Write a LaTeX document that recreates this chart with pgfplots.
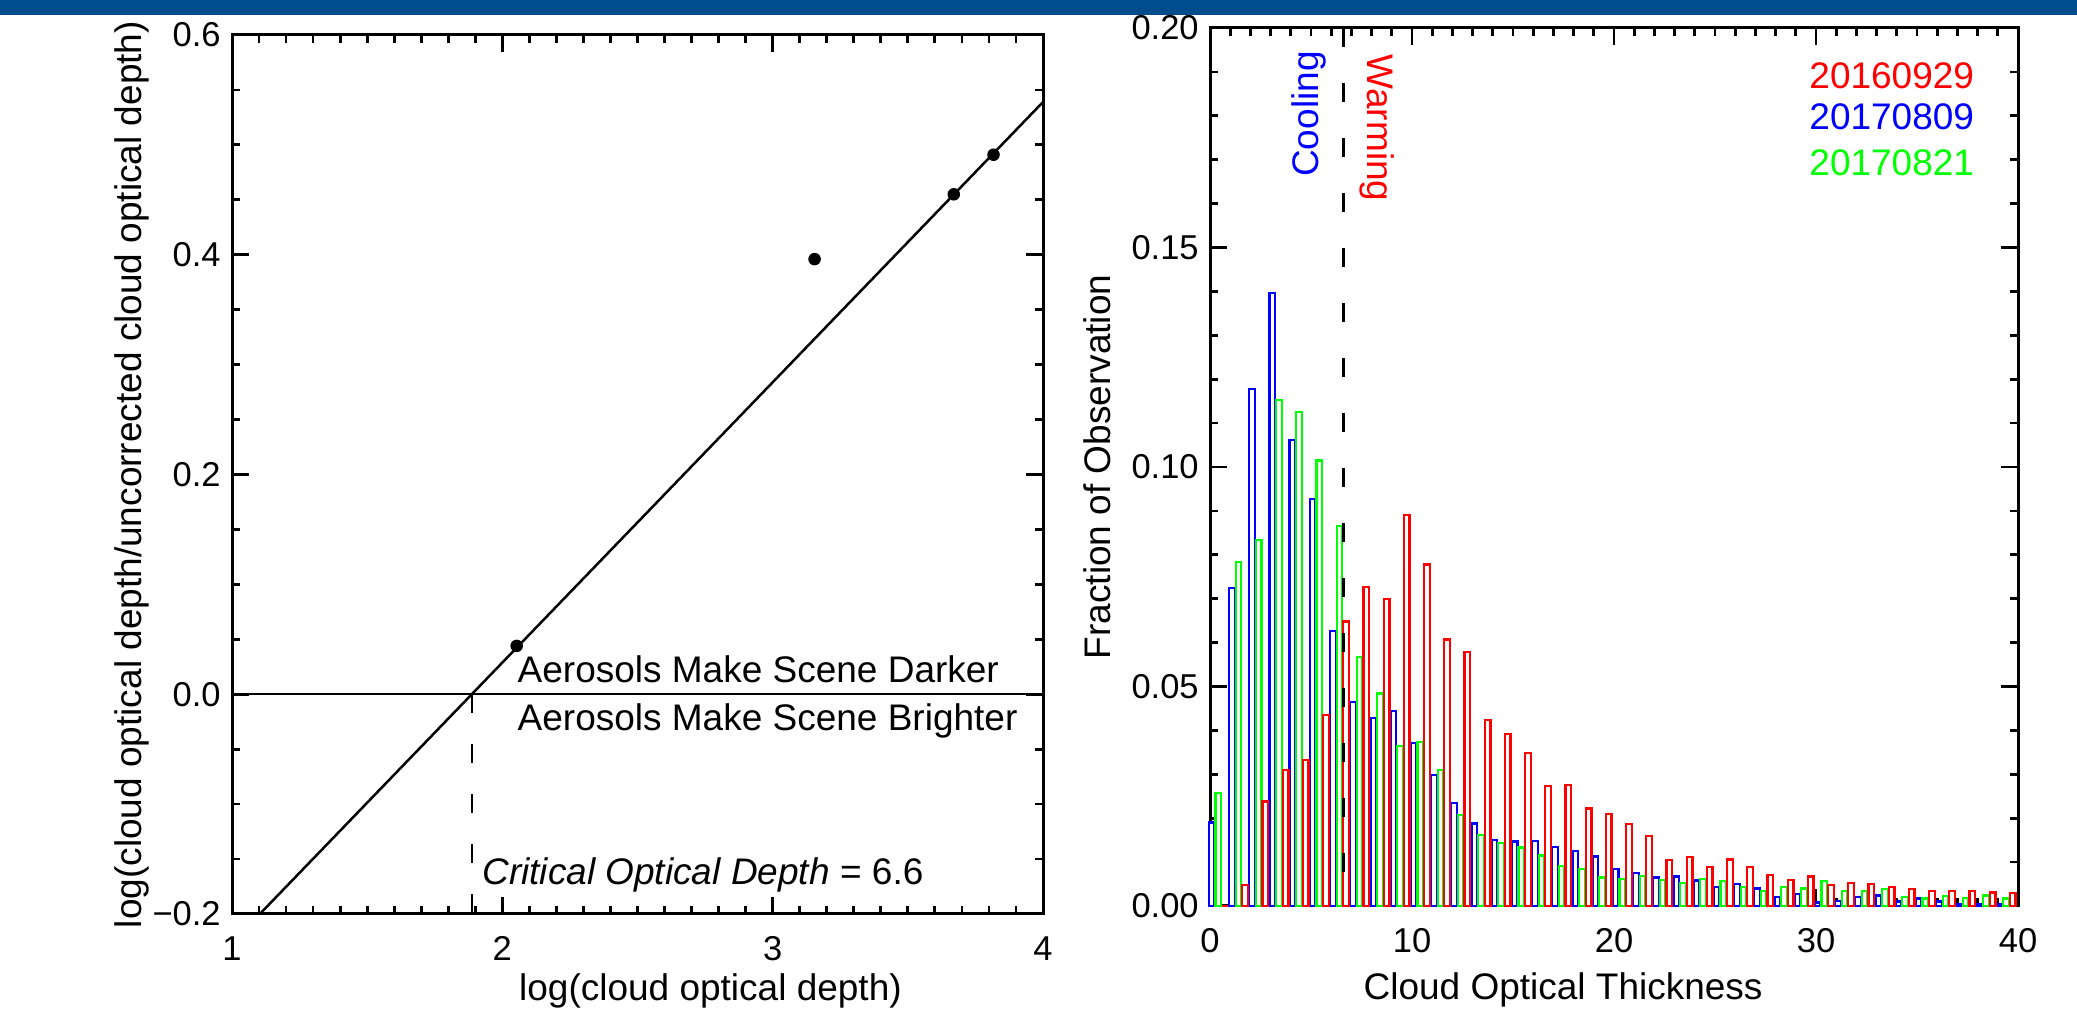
\documentclass[border=0pt]{standalone}
\usepackage{fontspec}
\setmainfont{Liberation Sans}
\usepackage{pgfplots}
\pgfplotsset{compat=1.18}
\usepackage{pgfplotstable}
\definecolor{hdr}{RGB}{0,76,141}
\definecolor{pred}{RGB}{255,0,0}
\definecolor{pblue}{RGB}{0,0,255}
\definecolor{pgreen}{RGB}{0,255,0}

\pgfplotstableread{
bin blue green red
0 0.0190 0.0258 0.0000
1 0.0725 0.0783 0.0048
2 0.1177 0.0834 0.0238
3 0.1397 0.1152 0.0310
4 0.1062 0.1125 0.0333
5 0.0927 0.1015 0.0435
6 0.0626 0.0866 0.0648
7 0.0464 0.0568 0.0727
8 0.0428 0.0484 0.0699
9 0.0444 0.0364 0.0890
10 0.0372 0.0373 0.0778
11 0.0298 0.0310 0.0607
12 0.0234 0.0207 0.0579
13 0.0188 0.0162 0.0424
14 0.0150 0.0144 0.0391
15 0.0147 0.0133 0.0348
16 0.0148 0.0115 0.0273
17 0.0135 0.0091 0.0276
18 0.0126 0.0084 0.0222
19 0.0113 0.0065 0.0209
20 0.0084 0.0061 0.0187
21 0.0076 0.0069 0.0159
22 0.0065 0.0060 0.0104
23 0.0067 0.0052 0.0111
24 0.0058 0.0061 0.0088
25 0.0044 0.0057 0.0106
26 0.0050 0.0043 0.0089
27 0.0040 0.0035 0.0071
28 0.0020 0.0043 0.0060
29 0.0027 0.0040 0.0067
30 0.0008 0.0057 0.0047
31 0.0012 0.0035 0.0052
32 0.0020 0.0035 0.0050
33 0.0024 0.0039 0.0044
34 0.0010 0.0021 0.0038
35 0.0017 0.0017 0.0034
36 0.0010 0.0023 0.0034
37 0.0004 0.0019 0.0034
38 0.0005 0.0024 0.0031
39 0.0005 0.0017 0.0029
}\histdata

\pgfplotsset{
  idlstyle/.style={
    scale only axis, anchor=south west, clip=false,
    axis line style={line width=1.2pt},
    tick style={black, line width=1.1pt},
    major tick length=6.7pt, minor tick length=3.3pt,
    tick align=inside,
    /pgf/number format/assume math mode=true,
    tick label style={font=\fontsize{13.8}{16}\selectfont},
    xticklabel style={yshift=-5.5pt},
    yticklabel style={xshift=-1pt},
    label style={font=\fontsize{14.8}{17}\selectfont},
  }
}

\begin{document}
\begin{tikzpicture}[font=\fontsize{14.8}{17}\selectfont]
\path[use as bounding box] (0,0) rectangle (830.8pt,403.6pt);
\fill[hdr] (0,397.6pt) rectangle (830.8pt,403.6pt);

\begin{axis}[idlstyle,
  at={(92.8pt,38pt)}, width=324.4pt, height=351.6pt,
  xmin=1, xmax=4, ymin=-0.2, ymax=0.6,
  xtick={1,2,3,4}, xticklabels={1,2,3,4}, minor x tick num=9,
  ytick={-0.2,0,0.2,0.4,0.6}, yticklabels={−0.2,0.0,0.2,0.4,0.6},
  minor y tick num=3,
  xlabel={log(cloud optical depth)},
  ylabel={log(cloud optical depth/uncorrected cloud optical depth)},
  xlabel style={at={(axis description cs:0.59,-0.098)}, anchor=base},
  ylabel style={at={(axis description cs:-0.123,0.5)}, anchor=center},
]
\addplot[black, line width=1pt] coordinates {(1.103,-0.2) (4,0.539)};
\addplot[black, line width=1pt] coordinates {(1,0) (4,0)};
\addplot[black, line width=1pt, dash pattern=on 7.6pt off 12.4pt] coordinates {(1.887,0) (1.887,-0.2)};
\addplot[only marks, mark=*, mark size=2.3pt, black] coordinates {
  (2.053,0.044) (3.155,0.396) (3.670,0.455) (3.817,0.491)};
\node[anchor=base west, inner sep=0pt] at (axis cs:2.055,0.011) {Aerosols Make Scene Darker};
\node[anchor=base west, inner sep=0pt] at (axis cs:2.055,-0.0334) {Aerosols Make Scene Brighter};
\node[anchor=base west, inner sep=0pt] at (axis cs:1.924,-0.173) {\itshape Critical Optical Depth\upshape\ = 6.6};
\end{axis}

\begin{axis}[idlstyle,
  at={(484pt,41.2pt)}, width=323.2pt, height=351.2pt,
  xmin=0, xmax=40, ymin=0, ymax=0.2,
  xtick={0,10,20,30,40}, xticklabels={0,10,20,30,40}, minor x tick num=9,
  ytick={0,0.05,0.1,0.15,0.2}, yticklabels={0.00,0.05,0.10,0.15,0.20},
  minor y tick num=4,
  xlabel={Cloud Optical Thickness},
  ylabel={Fraction of Observation},
  xlabel style={at={(axis description cs:0.437,-0.107)}, anchor=base},
  ylabel style={at={(axis description cs:-0.14,0.5)}, anchor=center},
]
\addplot[ybar, bar width=0.28, bar shift=0pt, draw=pblue, fill=white, line width=0.9pt]
  table[x expr=\thisrow{bin}+0.08, y=blue] {\histdata};
\addplot[ybar, bar width=0.28, bar shift=0pt, draw=pgreen, fill=white, line width=0.9pt]
  table[x expr=\thisrow{bin}+0.41, y=green] {\histdata};
\addplot[ybar, bar width=0.28, bar shift=0pt, draw=pred, fill=white, line width=0.9pt]
  table[x expr=\thisrow{bin}+0.74, y=red] {\histdata};
\addplot[black, line width=1.3pt, dash pattern=on 7.6pt off 14.4pt] coordinates {(6.6,0.2) (6.6,0)};
\node[rotate=90, anchor=base west, inner sep=0pt, text=pblue] at (axis cs:5.35,0.166) {Cooling};
\node[rotate=-90, anchor=base west, inner sep=0pt, text=pred] at (axis cs:7.82,0.194) {Warming};
\node[anchor=base west, inner sep=0pt, text=pred] at (axis cs:29.65,0.1863) {20160929};
\node[anchor=base west, inner sep=0pt, text=pblue] at (axis cs:29.65,0.1768) {20170809};
\node[anchor=base west, inner sep=0pt, text=pgreen] at (axis cs:29.65,0.1663) {20170821};
\end{axis}
\end{tikzpicture}
\end{document}
